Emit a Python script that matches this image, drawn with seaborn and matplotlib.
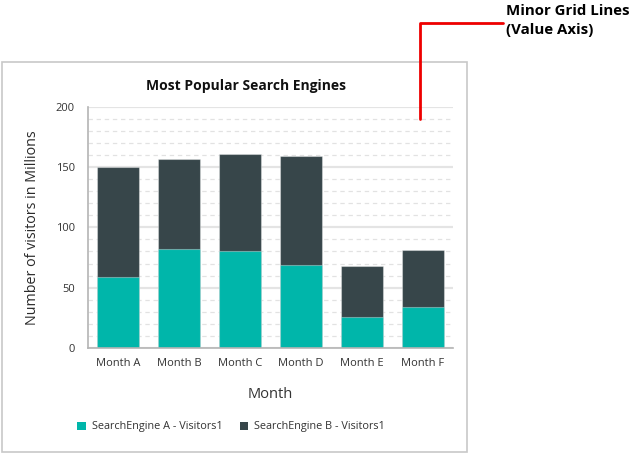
import matplotlib
matplotlib.use("Agg")
import matplotlib.pyplot as plt
import seaborn as sns
import pandas as pd
from matplotlib.patches import Rectangle, Patch
from matplotlib.lines import Line2D
from matplotlib.ticker import MultipleLocator

months = ["Month A", "Month B", "Month C", "Month D", "Month E", "Month F"]
engine_a = [59, 82, 80, 69, 26, 34]
engine_b = [91, 75, 81, 90, 42, 47]
series_names = ["SearchEngine A - Visitors1", "SearchEngine B - Visitors1"]
y_ticks = [0, 50, 100, 150, 200]

teal = "#00B6AA"
dark = "#37464A"

sns.set_theme(style="white")
plt.rcParams["font.family"] = ["Open Sans", "DejaVu Sans"]

W, H = 642, 457
fig = plt.figure(figsize=(W / 100, H / 100), dpi=100)

def fx(px):
    return px / W

def fy(py):
    return 1 - py / H

ax = fig.add_axes([fx(88), fy(348), fx(453) - fx(88), fy(106.7) - fy(348)])

df = pd.DataFrame({"Month": months, "A": engine_a, "B": engine_b})
df["Total"] = df["A"] + df["B"]

sns.barplot(data=df, x="Month", y="Total", color=dark, width=0.69, ax=ax,
            edgecolor=(1, 1, 1, 0.35), linewidth=0.8, saturation=1)
sns.barplot(data=df, x="Month", y="A", color=teal, width=0.69, ax=ax,
            edgecolor=(1, 1, 1, 0.35), linewidth=0.8, saturation=1)

ax.set_xlim(-0.5, len(months) - 0.5)
ax.set_ylim(0, 200)
ax.set_yticks(y_ticks)
ax.yaxis.set_minor_locator(MultipleLocator(10))
ax.set_axisbelow(True)
ax.grid(axis="y", which="major", color="#e4e4e4", linewidth=1.6, linestyle="-")
ax.grid(axis="y", which="minor", color="#e2e2e2", linewidth=0.9, linestyle=(0, (3.5, 3)))
ax.grid(axis="x", visible=False)

for s in ["top", "right"]:
    ax.spines[s].set_visible(False)
for s in ["left", "bottom"]:
    ax.spines[s].set_color("#b4b4b4")
    ax.spines[s].set_linewidth(1.2)

ax.tick_params(axis="both", which="both", length=0, colors="#333333", labelsize=8)
ax.tick_params(axis="y", pad=9.5)
ax.tick_params(axis="x", pad=7)
ax.set_xlabel("Month", fontsize=10.5, color="#333333", labelpad=13)
ax.set_ylabel("Number of visitors in Millions", fontsize=10.3, color="#2a2a2a", labelpad=11)

fig.text(fx(246), fy(86), "Most Popular Search Engines", ha="center", va="center",
         fontsize=10, fontweight="bold", color="#111111")

# panel border
fig.patches.append(Rectangle((fx(2), fy(452)), fx(467) - fx(2), fy(62) - fy(452),
                             transform=fig.transFigure, fill=False,
                             edgecolor="#c8c8c8", linewidth=1.2))

# legend
handles = [Patch(facecolor=teal, edgecolor="none"), Patch(facecolor=dark, edgecolor="none")]
fig.legend(handles, series_names, loc="center", bbox_to_anchor=(fx(231), fy(427)),
           ncol=2, frameon=False, fontsize=7.8, handlelength=0.8, handleheight=0.8,
           columnspacing=1.6, handletextpad=0.5, labelcolor="#333333")

# annotation
fig.add_artist(Line2D([fx(420), fx(420), fx(503)], [fy(119), fy(23), fy(23)],
                      transform=fig.transFigure, color="#ee0000", linewidth=2))
fig.text(fx(506), fy(4), "Minor Grid Lines\n(Value Axis)", ha="left", va="top",
         fontsize=10.8, fontweight="bold", color="#000000", linespacing=1.45)

fig.savefig("out.png", dpi=100)
